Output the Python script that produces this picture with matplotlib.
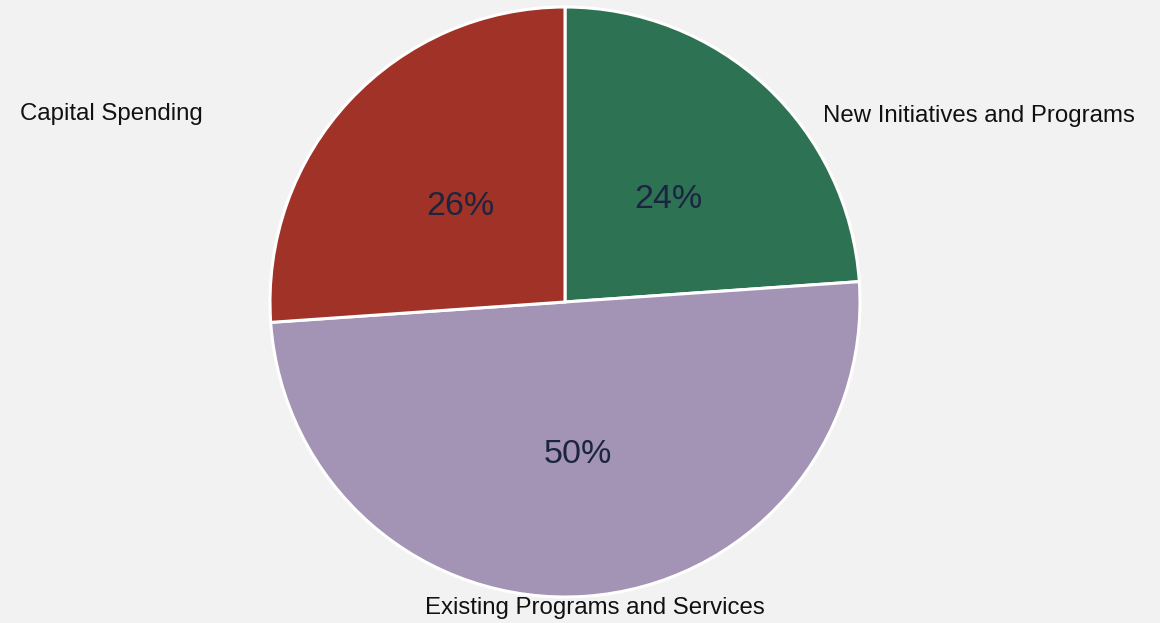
import numpy as np
import matplotlib.pyplot as plt

plt.rcParams['font.family'] = ['Liberation Sans', 'DejaVu Sans']

labels = ['New Initiatives and Programs', 'Existing Programs and Services', 'Capital Spending']
shares = [23.9, 50.0, 26.1]
colors = ['#2E7254', '#A393B4', '#A03227']

fig = plt.figure(figsize=(11.6, 6.23), dpi=100, facecolor='#F2F2F2')
ax = fig.add_axes([0, 0, 1, 1])
ax.set_facecolor('#F2F2F2')

cx, cy, r = 565, 321, 295
wedges, texts = ax.pie(shares, colors=colors, startangle=90, counterclock=False,
                       center=(cx, cy), radius=r, frame=True,
                       wedgeprops=dict(edgecolor='white', linewidth=2.2))
ax.set_xlim(0, 1160)
ax.set_ylim(0, 623)
ax.axis('off')

# percentage labels
for w, s in zip(wedges, shares):
    ang = np.deg2rad((w.theta1 + w.theta2) / 2)
    ax.text(cx + 0.5 * r * np.cos(ang) + 3, cy + 0.5 * r * np.sin(ang) - 5, f'{s:.0f}%',
            ha='center', va='center', fontsize=24.5, color='#1B2540')

# category labels
ax.text(979, 507, labels[0], ha='center', va='center', fontsize=17.3, color='#111111')
ax.text(595, 15, labels[1], ha='center', va='center', fontsize=17.3, color='#111111')
ax.text(111, 509, labels[2], ha='center', va='center', fontsize=17.3, color='#111111')

fig.savefig('out.png', dpi=100, facecolor=fig.get_facecolor())
